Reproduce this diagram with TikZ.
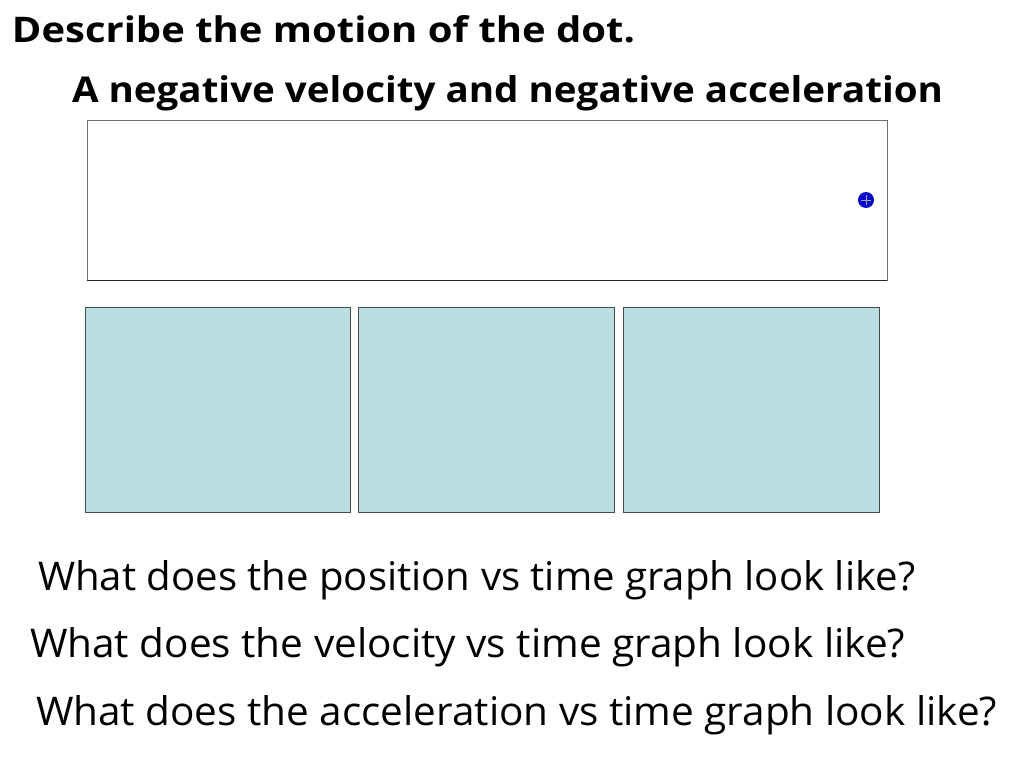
\documentclass[tikz,border=0pt]{standalone}
\usepackage{fontspec}
\setmainfont{Open Sans}
\usepackage{graphicx}
\definecolor{panelfill}{HTML}{B9DFE2}
\definecolor{panelline}{HTML}{4A4A4A}
\definecolor{dotblue}{HTML}{0A0ACC}
\begin{document}
\begin{tikzpicture}[x=1pt,y=-1pt,
  panel/.style={draw=panelline, fill=panelfill, line width=1pt, inner sep=0pt, minimum height=205pt},
  txt/.style={anchor=base west, inner sep=0pt, outer sep=0pt}]
\useasboundingbox (0,0) rectangle (1024,768);
\fill[white] (0,0) rectangle (1024,768);
% titles
\node[txt] (t1) at (12,43) {\resizebox{623pt}{27pt}{\bfseries Describe the motion of the dot.}};
\node[txt] (t2) at (72,102) {\resizebox{871pt}{27pt}{\bfseries A negative velocity and negative acceleration}};
% motion box
\node[draw=panelline!80, line width=0.8pt, inner sep=0pt, minimum width=800pt, minimum height=160pt] (mbox) at (487,200) {};
\draw[line width=1.8pt, black!85] (mbox.south west) -- (mbox.south east);
\node[circle, fill=dotblue, inner sep=0pt, minimum size=16pt] (dot) at (866,200) {};
\draw[gray!70, line width=0.6pt] ([xshift=-5pt]dot.center) -- ([xshift=5pt]dot.center)
  ([yshift=-5pt]dot.center) -- ([yshift=5pt]dot.center);
% graph panels
\node[panel, minimum width=265pt] (p1) at (217.5,409.5) {};
\node[panel, minimum width=256pt] (p2) at (486,409.5) {};
\node[panel, minimum width=256pt] (p3) at (751,409.5) {};
% questions
\node[txt] (q1) at (38,590) {\resizebox{877pt}{30pt}{What does the position vs time graph look like?}};
\node[txt] (q2) at (30,657) {\resizebox{875pt}{30pt}{What does the velocity vs time graph look like?}};
\node[txt] (q3) at (36,725) {\resizebox{961pt}{30pt}{What does the acceleration vs time graph look like?}};
\end{tikzpicture}
\end{document}
